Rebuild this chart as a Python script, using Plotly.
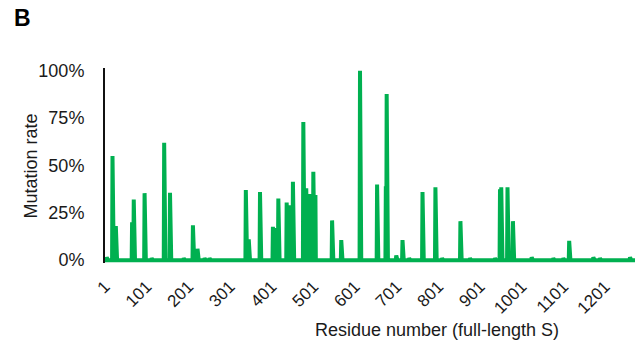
import numpy as np
import plotly.graph_objects as go

# Residues with non-zero mutation rate, rate in fraction
mut_residues = [5, 19, 27, 66, 70, 96, 113, 143, 157, 190, 212, 223, 240, 252,
                339, 346, 373, 375, 404, 410, 417, 437, 446, 452, 477, 484, 493,
                501, 506, 546, 568, 613, 654, 675, 677, 700, 715, 731, 763, 794,
                810, 854, 877, 937, 949, 952, 967, 980, 1025, 1077, 1101, 1115,
                1173, 1189, 1261]
mut_rates = [0.015, 0.55, 0.18, 0.20, 0.32, 0.354, 0.01, 0.62, 0.356, 0.01, 0.184,
             0.06, 0.01, 0.01, 0.37, 0.11, 0.36, 0.36, 0.176, 0.17, 0.326, 0.305,
             0.29, 0.414, 0.73, 0.38, 0.35, 0.467, 0.344, 0.21, 0.106, 1.0, 0.40,
             0.39, 0.878, 0.025, 0.106, 0.01, 0.36, 0.385, 0.01, 0.206, 0.01, 0.01,
             0.374, 0.385, 0.385, 0.206, 0.015, 0.01, 0.01, 0.102, 0.015, 0.01, 0.015]
protein_length = 1273
tick_labels = ["1", "101", "201", "301", "401", "501", "601", "701", "801", "901",
               "1001", "1101", "1201"]
y_ticks = [0, 0.25, 0.5, 0.75, 1.0]
y_tick_labels = ["0%", "25%", "50%", "75%", "100%"]

residues = np.arange(1, protein_length + 1)
rates = np.zeros(protein_length)
for r, v in zip(mut_residues, mut_rates):
    rates[r - 1] = v

FONT = "Liberation Sans, Arial, sans-serif"
TXT = "#1a1a1a"
W, H = 642, 344
left, right = 105, 635
top, bottom = 68.2, 262.8
pw, ph = right - left, bottom - top


def px(x):
    return (x - left) / pw


def py(y):
    return (bottom - y) / ph


fig = go.Figure()
fig.add_trace(go.Scatter(x=residues, y=rates, mode="lines",
                         line=dict(color="#00B050", width=4),
                         hoverinfo="skip", showlegend=False))

fig.update_layout(
    width=W, height=H,
    margin=dict(l=left, r=W - right, t=top, b=H - bottom, pad=0),
    paper_bgcolor="white", plot_bgcolor="white",
    font=dict(family=FONT, size=17, color=TXT),
    xaxis=dict(range=[1, protein_length], tickmode="array",
               tickvals=[int(t) for t in tick_labels], ticktext=tick_labels,
               tickangle=-45, showgrid=False, zeroline=False, showline=False,
               ticks="outside", ticklen=6, tickcolor="rgba(0,0,0,0)",
               tickfont=dict(size=17, family=FONT, color=TXT)),
    yaxis=dict(range=[-0.015, 1.015], tickmode="array", tickvals=y_ticks,
               ticktext=y_tick_labels, showgrid=False, zeroline=False,
               showline=True, linecolor="#111", linewidth=2,
               ticks="outside", ticklen=15, tickcolor="rgba(0,0,0,0)",
               tickfont=dict(size=18, family=FONT, color=TXT)),
    annotations=[
        dict(text="<b>B</b>", x=px(12), y=py(18.5), xref="paper", yref="paper",
             showarrow=False, xanchor="left", yanchor="middle",
             font=dict(size=23, family=FONT, color="black")),
        dict(text="Mutation rate", x=px(31.5), y=py(166), xref="paper", yref="paper",
             showarrow=False, xanchor="center", yanchor="middle", textangle=-90,
             font=dict(size=18, family=FONT, color=TXT)),
        dict(text="Residue number (full-length S)", x=px(436.5), y=py(330),
             xref="paper", yref="paper",
             showarrow=False, xanchor="center", yanchor="middle",
             font=dict(size=18, family=FONT, color=TXT)),
    ],
)

fig.write_html("out.html", config={"displayModeBar": False},
               post_script="document.body.style.margin='0px';document.body.style.padding='0px';")
